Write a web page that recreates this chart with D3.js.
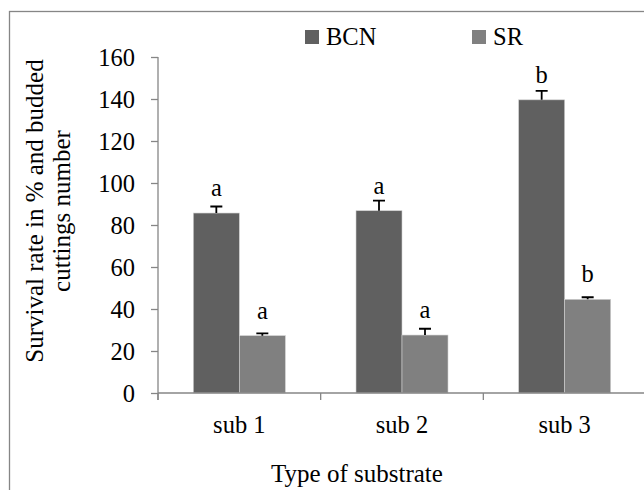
<!DOCTYPE html>
<html>
<head>
<meta charset="utf-8">
<script src="https://cdn.jsdelivr.net/npm/d3@7"></script>
<style>
  body { margin: 0; background: #fff; }
</style>
</head>
<body>
<div id="chart"></div>
<script>
// values
var categories = ["sub 1", "sub 2", "sub 3"];
var seriesNames = ["BCN", "SR"];
var bcnValues = [85.7, 86.8, 139.6];
var bcnErrors = [3.1, 4.8, 4.3];
var srValues = [27.3, 27.6, 44.6];
var srErrors = [1.1, 3.0, 1.0];
var bcnLetters = ["a", "a", "b"];
var srLetters = ["a", "a", "b"];
var yTicks = [0, 20, 40, 60, 80, 100, 120, 140, 160];

var width = 644, height = 490;
var margin = {top: 57, left: 158, bottom: 97, right: -2};
var colors = {BCN: "#606060", SR: "#808080"};
var axisColor = "#868686";
var serif = "'Liberation Serif', 'Times New Roman', Tinos, 'DejaVu Serif', serif";

var svg = d3.select("#chart").append("svg")
    .attr("width", width)
    .attr("height", height)
    .attr("font-family", serif)
    .style("font-family", serif);

// outer frame (right / bottom edges fall outside the picture)
svg.append("rect")
    .attr("x", 9.5).attr("y", 11.5)
    .attr("width", 700).attr("height", 600)
    .attr("fill", "none")
    .attr("stroke", axisColor)
    .attr("stroke-width", 1.3);

var x0 = d3.scaleBand()
    .domain(categories)
    .range([margin.left, width - margin.right])
    .paddingInner(0).paddingOuter(0);
var x1 = d3.scaleBand()
    .domain(seriesNames)
    .range([0, 92])
    .padding(0);
var y = d3.scaleLinear()
    .domain([0, 160])
    .range([height - margin.bottom, margin.top]);

var rows = categories.map(function (c, i) {
    return [
        {cat: c, key: "BCN", value: bcnValues[i], err: bcnErrors[i], letter: bcnLetters[i]},
        {cat: c, key: "SR", value: srValues[i], err: srErrors[i], letter: srLetters[i]}
    ];
});

// y axis
var yAxis = svg.append("g")
    .attr("transform", "translate(" + margin.left + ",0)")
    .call(d3.axisLeft(y).tickValues(yTicks).tickSize(7).tickPadding(16));
yAxis.attr("font-family", null);
yAxis.select(".domain").remove();
yAxis.selectAll(".tick line").attr("stroke", axisColor).attr("stroke-width", 1.3);
yAxis.selectAll(".tick text")
    .attr("font-size", "24.5px")
    .attr("dy", "0.34em");
svg.append("line")
    .attr("x1", margin.left).attr("x2", margin.left)
    .attr("y1", y(160)).attr("y2", y(0) + 7)
    .attr("stroke", axisColor).attr("stroke-width", 1.3);

// bars
var groups = svg.selectAll(".grp")
    .data(rows)
    .enter().append("g")
    .attr("class", "grp")
    .attr("transform", function (d) {
        return "translate(" + (x0(d[0].cat) + x0.bandwidth() / 2 - 46) + ",0)";
    });

groups.selectAll("rect")
    .data(function (d) { return d; })
    .enter().append("rect")
    .attr("x", function (d) { return x1(d.key); })
    .attr("y", function (d) { return y(d.value); })
    .attr("width", x1.bandwidth())
    .attr("height", function (d) { return y(0) - y(d.value); })
    .attr("fill", function (d) { return colors[d.key]; })
    .attr("stroke", "#d0d0d0")
    .attr("stroke-width", 0.6);

// error bars (upper only)
groups.selectAll(".err")
    .data(function (d) { return d; })
    .enter().append("path")
    .attr("class", "err")
    .attr("d", function (d) {
        var cx = x1(d.key) + x1.bandwidth() / 2;
        var top = y(d.value + d.err);
        return "M" + cx + "," + y(d.value) + "V" + top + "M" + (cx - 6) + "," + top + "H" + (cx + 6);
    })
    .attr("stroke", "#000")
    .attr("stroke-width", 1.8)
    .attr("fill", "none");

// significance letters
groups.selectAll(".letter")
    .data(function (d) { return d; })
    .enter().append("text")
    .attr("class", "letter")
    .attr("x", function (d) { return x1(d.key) + x1.bandwidth() / 2; })
    .attr("y", function (d) { return y(d.value) - 17; })
    .attr("text-anchor", "middle")
    .attr("font-size", "24.5px")
    .text(function (d) { return d.letter; });

// x axis
var xAxis = svg.append("g")
    .attr("transform", "translate(0," + y(0) + ")");
xAxis.append("line")
    .attr("x1", margin.left).attr("x2", width)
    .attr("stroke", axisColor).attr("stroke-width", 1.3);
var xTicks = categories.map(function (c) { return x0(c); }).concat([x0(categories[2]) + x0.bandwidth() - 1]);
xAxis.selectAll(".xt")
    .data(xTicks)
    .enter().append("line")
    .attr("x1", function (d) { return d; })
    .attr("x2", function (d) { return d; })
    .attr("y1", 0).attr("y2", 7)
    .attr("stroke", axisColor).attr("stroke-width", 1.3);
xAxis.selectAll(".xl")
    .data(categories)
    .enter().append("text")
    .attr("x", function (d) { return x0(d) + x0.bandwidth() / 2; })
    .attr("y", 40)
    .attr("text-anchor", "middle")
    .attr("font-size", "24.5px")
    .text(function (d) { return d; });

// axis titles
svg.append("text")
    .attr("x", 357).attr("y", 482)
    .attr("text-anchor", "middle")
    .attr("font-size", "25px")
    .text("Type of substrate");

var yTitle = svg.append("text")
    .attr("transform", "translate(43,211) rotate(-90)")
    .attr("text-anchor", "middle")
    .attr("font-size", "25px");
yTitle.append("tspan").attr("x", 0).attr("y", 0).text("Survival rate in % and budded");
yTitle.append("tspan").attr("x", 0).attr("y", 27).text("cuttings number");

// legend
var legendX = [305, 472];
var legend = svg.selectAll(".leg")
    .data(seriesNames)
    .enter().append("g")
    .attr("class", "leg")
    .attr("transform", function (d, i) { return "translate(" + legendX[i] + ",30)"; });
legend.append("rect")
    .attr("width", 14).attr("height", 14)
    .attr("fill", function (d) { return colors[d]; });
legend.append("text")
    .attr("x", 21).attr("y", 15)
    .attr("font-size", "24.5px")
    .text(function (d) { return d; });
</script>
</body>
</html>
